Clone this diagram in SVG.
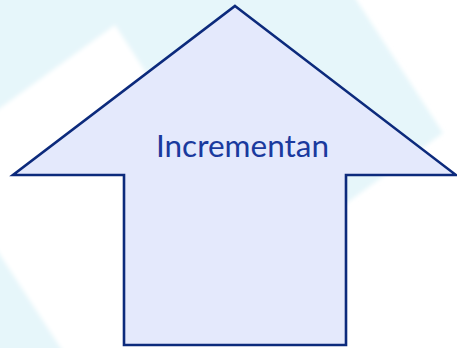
<svg xmlns="http://www.w3.org/2000/svg" width="457" height="348" viewBox="0 0 457 348">
  <defs>
    <filter id="soft" x="-10%" y="-10%" width="120%" height="120%">
      <feGaussianBlur stdDeviation="2"/>
    </filter>
    <style>
      .arrow { fill: #e4e9fc; stroke: #0c2a7c; stroke-width: 2.6; stroke-linejoin: miter; }
      .label { font-family: Lato, "Liberation Sans", sans-serif; font-size: 31.5px; fill: #1a3a9e; text-anchor: middle; }
    </style>
  </defs>
  <rect width="457" height="348" fill="#ffffff"/>
  <g id="background" filter="url(#soft)">
    <polygon points="-200,-200 226,-200 443,133 -200,600" fill="#e6f6fa"/>
    <polygon points="-65,155 115,25 330,355 150,485" fill="#ffffff"/>
  </g>
  <g id="arrow-node">
    <polygon class="arrow" points="235,6 456,175 346,175 346,345 124,345 124,175 13,175"/>
    <text class="label" x="242.5" y="157">Incrementan</text>
  </g>
  <g id="connectors"/>
</svg>
